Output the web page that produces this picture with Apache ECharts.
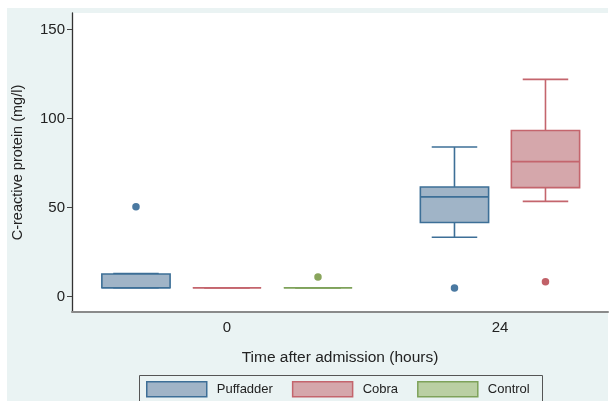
<!DOCTYPE html>
<html>
<head>
<meta charset="utf-8">
<script src="https://cdn.jsdelivr.net/npm/echarts@6/dist/echarts.min.js"></script>
<style>
html,body{margin:0;padding:0;background:#fff;}
#chart{width:609px;height:401px;}
</style>
</head>
<body>
<div id="chart"></div>
<script>
// ---- data ----
const timeLabels = ['0', '24'];
const groupNames = ['Puffadder', 'Cobra', 'Control'];
// box stats per time: [min, Q1, median, Q3, max]; null = not present
const puffadderBox = [[5, 5, 5, 12.7, 13], [33.3, 41.6, 56, 61.6, 84]];
const cobraBox     = [[5, 5, 5, 5, 5],     [53.5, 61.2, 75.8, 93.3, 122]];
const controlBox   = [[5, 5, 5, 5, 5],     null];
// outliers: [timeIndex, value]
const puffadderOut = [[0, 50.5], [1, 4.8]];
const cobraOut     = [[1, 8.4]];
const controlOut   = [[0, 11]];
const yTicks = [0, 50, 100, 150];

// ---- styling ----
const fills   = ['#a0b4c7', '#d5a7ab', '#bacfa3'];
const borders = ['#3d6f97', '#c4656d', '#7ea25a'];
const dots    = ['#1d5889', '#b23a42', '#6b8f33'];
const FONT = '"Liberation Sans", Arial, Helvetica, sans-serif';

const boxes = [puffadderBox, cobraBox, controlBox];
const outs = [puffadderOut, cobraOut, controlOut];

// slot layout: each time block centred on timeCenters, present groups side by side
const timeCenters = [1, 4];
function slotPos(g, t) {
  const present = [];
  boxes.forEach((b, i) => { if (b[t]) present.push(i); });
  const idx = present.indexOf(g);
  return timeCenters[t] + (idx - (present.length - 1) / 2);
}

function renderBox(params, api) {
  const x = api.value(0);
  const mn = api.coord([x, api.value(1)]);
  const q1 = api.coord([x, api.value(2)]);
  const md = api.coord([x, api.value(3)]);
  const q3 = api.coord([x, api.value(4)]);
  const mx = api.coord([x, api.value(5)]);
  const hw = api.size([0.75, 0])[0] / 2;
  const cw = api.size([0.5, 0])[0] / 2;
  const g = params.seriesIndex;
  const ls = { stroke: borders[g], lineWidth: 1.6, fill: null };
  const cx = mn[0];
  const children = [];
  if (mx[1] < q3[1]) children.push({ type: 'line', shape: { x1: cx, y1: q3[1], x2: cx, y2: mx[1] }, style: ls });
  if (mn[1] > q1[1]) children.push({ type: 'line', shape: { x1: cx, y1: q1[1], x2: cx, y2: mn[1] }, style: ls });
  children.push({ type: 'line', shape: { x1: cx - cw, y1: mx[1], x2: cx + cw, y2: mx[1] }, style: ls });
  children.push({ type: 'line', shape: { x1: cx - cw, y1: mn[1], x2: cx + cw, y2: mn[1] }, style: ls });
  children.push({ type: 'rect', shape: { x: cx - hw, y: q3[1], width: hw * 2, height: q1[1] - q3[1] },
    style: { fill: fills[g], stroke: borders[g], lineWidth: 1.6 } });
  children.push({ type: 'line', shape: { x1: cx - hw, y1: md[1], x2: cx + hw, y2: md[1] }, style: ls });
  return { type: 'group', children };
}

const series = [];
groupNames.forEach((name, g) => {
  const data = [];
  boxes[g].forEach((b, t) => { if (b) data.push([slotPos(g, t)].concat(b)); });
  series.push({
    name, type: 'custom', renderItem: renderBox, data,
    encode: { x: 0, y: [1, 2, 3, 4, 5] },
    itemStyle: { color: fills[g], borderColor: borders[g], borderWidth: 1.5 },
    z: 2
  });
});
groupNames.forEach((name, g) => {
  series.push({
    name: name + ' outliers', type: 'scatter', symbol: 'circle', symbolSize: 7.5,
    itemStyle: { color: dots[g] },
    data: outs[g].map(o => [slotPos(g, o[0]), o[1]]), z: 3
  });
});

const chart = echarts.init(document.getElementById('chart'), null, { renderer: 'canvas' });
chart.setOption({
  animation: false,
  backgroundColor: '#ffffff',
  textStyle: { fontFamily: FONT },
  graphic: [
    { type: 'rect', z: -10, silent: true, shape: { x: 7, y: 8, width: 601, height: 393 }, style: { fill: '#eaf3f3' } },
    { type: 'rect', z: 10, silent: true, shape: { x: 139.5, y: 375.5, width: 403, height: 40 }, style: { fill: null, stroke: '#555', lineWidth: 1 } }
  ],
  grid: { left: 72, right: 1, top: 13, bottom: 89, show: true, backgroundColor: '#ffffff', borderWidth: 0, z: -5 },
  xAxis: {
    type: 'value', min: -0.703, max: 5.187,
    splitLine: { show: false },
    axisTick: { show: false },
    axisLine: { onZero: false, lineStyle: { color: '#8a8a8a', width: 2 } },
    axisLabel: { customValues: timeCenters, formatter: v => timeLabels[timeCenters.indexOf(v)] || '',
      color: '#222', fontSize: 15, margin: 8, fontFamily: FONT },
    name: 'Time after admission (hours)', nameLocation: 'middle', nameGap: 38,
    nameTextStyle: { color: '#222', fontSize: 15.5, fontFamily: FONT }
  },
  yAxis: {
    type: 'value', min: -8.65, max: 159.3,
    splitLine: { show: false },
    axisLine: { show: true, onZero: false, lineStyle: { color: '#333', width: 1.3 } },
    axisTick: { show: true, length: 5, customValues: yTicks, lineStyle: { color: '#444' } },
    axisLabel: { customValues: yTicks, color: '#222', fontSize: 15, margin: 7, fontFamily: FONT },
    name: 'C-reactive protein (mg/l)', nameLocation: 'middle', nameGap: 47, nameRotate: 90,
    nameTextStyle: { color: '#222', fontSize: 14.5, fontFamily: FONT }
  },
  legend: {
    data: groupNames.map((n, g) => ({ name: n, icon: 'rect', itemStyle: { color: fills[g], borderColor: borders[g], borderWidth: 1.5 } })),
    left: 139, top: 375, orient: 'horizontal',
    itemWidth: 60, itemHeight: 15, itemGap: 19,
    padding: [6, 9, 6, 7],
    borderWidth: 0, backgroundColor: 'transparent',
    textStyle: { color: '#222', fontSize: 13, fontFamily: FONT, padding: [0, 0, 0, 5] },
    selectedMode: false
  },
  series
});
</script>
</body>
</html>
